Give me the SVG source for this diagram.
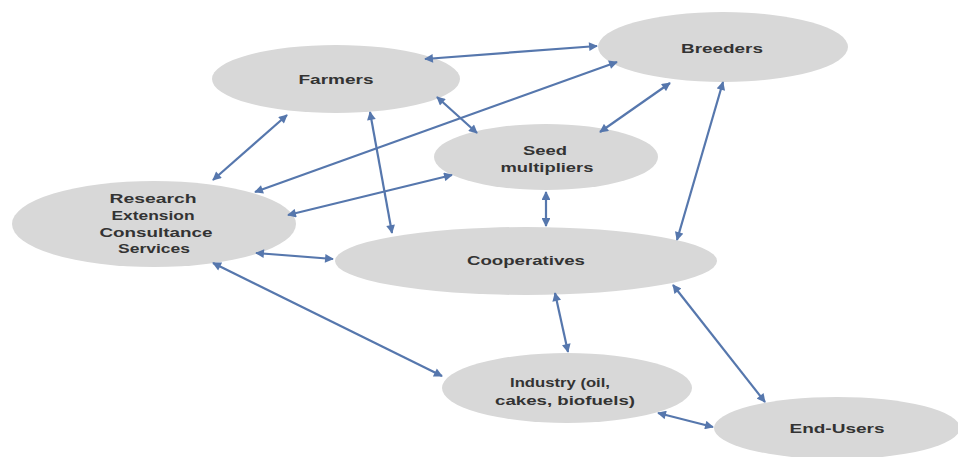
<svg xmlns="http://www.w3.org/2000/svg" width="958" height="457" viewBox="0 0 958 457">
<defs>
<marker id="ah" viewBox="0 0 10 10" refX="9" refY="5" markerWidth="4.5" markerHeight="4" orient="auto-start-reverse" markerUnits="strokeWidth">
<path d="M0,0 L10,5 L0,10 z" fill="#5677ad"/>
</marker>
<style>
.node ellipse{fill:#d8d8d8;}
.node text{font-family:"Liberation Sans",Arial,sans-serif;font-size:13px;font-weight:bold;fill:#333;text-anchor:middle;}
#connectors line{stroke:#5677ad;stroke-width:2.2;marker-start:url(#ah);marker-end:url(#ah);}
</style>
</defs>
<rect width="958" height="457" fill="#fff"/>
<g id="nodes">
<g id="farmers" class="node"><ellipse cx="336" cy="79" rx="124" ry="34"/><text x="336" y="84" textLength="75" lengthAdjust="spacingAndGlyphs">Farmers</text></g>
<g id="breeders" class="node"><ellipse cx="723" cy="47" rx="125" ry="35"/><text x="722" y="53" textLength="82" lengthAdjust="spacingAndGlyphs">Breeders</text></g>
<g id="seed" class="node"><ellipse cx="546" cy="157" rx="112" ry="33"/><text x="545" y="155" textLength="44" lengthAdjust="spacingAndGlyphs">Seed</text><text x="547" y="172" textLength="93" lengthAdjust="spacingAndGlyphs">multipliers</text></g>
<g id="research" class="node"><ellipse cx="154" cy="224" rx="142" ry="43"/><text x="153" y="203" textLength="87" lengthAdjust="spacingAndGlyphs">Research</text><text x="153" y="220" textLength="83" lengthAdjust="spacingAndGlyphs">Extension</text><text x="156" y="237" textLength="113" lengthAdjust="spacingAndGlyphs">Consultance</text><text x="154" y="253" textLength="72" lengthAdjust="spacingAndGlyphs">Services</text></g>
<g id="cooperatives" class="node"><ellipse cx="526" cy="261" rx="191" ry="34"/><text x="526" y="265" textLength="118" lengthAdjust="spacingAndGlyphs">Cooperatives</text></g>
<g id="industry" class="node"><ellipse cx="567" cy="388" rx="125" ry="35"/><text x="560" y="387" textLength="100" lengthAdjust="spacingAndGlyphs">Industry (oil,</text><text x="565" y="405" textLength="140" lengthAdjust="spacingAndGlyphs">cakes, biofuels)</text></g>
<g id="endusers" class="node"><ellipse cx="837" cy="428" rx="123" ry="31"/><text x="837" y="433" textLength="95" lengthAdjust="spacingAndGlyphs">End-Users</text></g>
</g>
<g id="connectors">
<line x1="425" y1="59" x2="597" y2="46"/>
<line x1="287" y1="115" x2="213" y2="180"/>
<line x1="370" y1="112" x2="392" y2="233"/>
<line x1="437" y1="97" x2="477" y2="133"/>
<line x1="617" y1="62" x2="255" y2="192"/>
<line x1="670" y1="83" x2="600" y2="132"/>
<line x1="723" y1="82" x2="677" y2="240"/>
<line x1="452" y1="175" x2="288" y2="215"/>
<line x1="546" y1="192" x2="546" y2="226"/>
<line x1="256" y1="253" x2="333" y2="259"/>
<line x1="213" y1="263" x2="442" y2="376"/>
<line x1="555" y1="293" x2="568" y2="352"/>
<line x1="673" y1="285" x2="765" y2="402"/>
<line x1="658" y1="413" x2="713" y2="427"/>
</g>
</svg>
